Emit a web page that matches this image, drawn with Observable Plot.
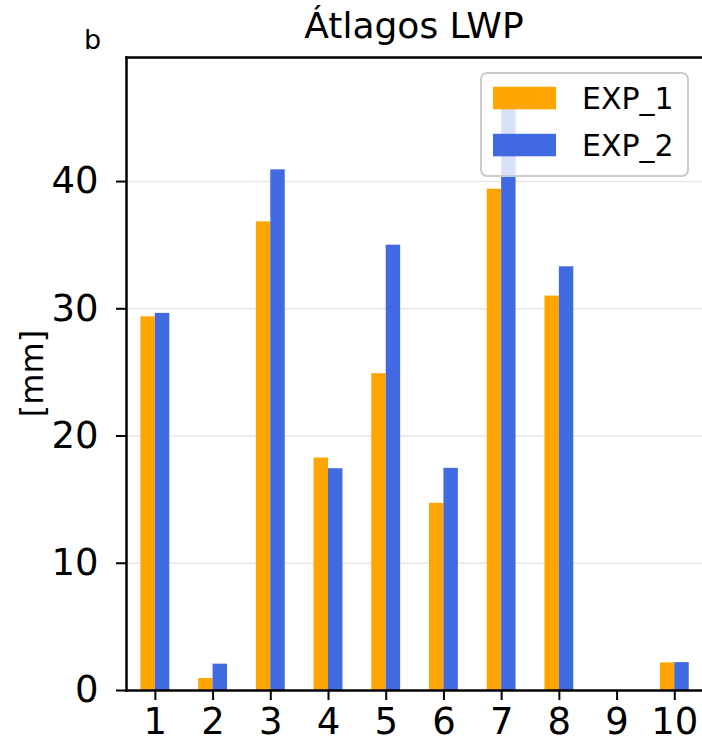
<!DOCTYPE html>
<html>
<head>
<meta charset="utf-8">
<script src="https://cdn.jsdelivr.net/npm/d3@7"></script>
<script src="https://cdn.jsdelivr.net/npm/@observablehq/plot@0.6"></script>
<style>
  html, body { margin: 0; padding: 0; background: #fff; }
  #chart svg { display: block; font-family: "DejaVu Sans", sans-serif; }
</style>
</head>
<body>
<div id="chart"></div>
<script>
// Mean liquid water path per case, two experiments
const cases = [1, 2, 3, 4, 5, 6, 7, 8, 9, 10];
const exp1 = [29.37, 0.94, 36.83, 18.27, 24.9, 14.71, 39.4, 31.0, 0, 2.17];
const exp2 = [29.64, 2.07, 40.92, 17.43, 35.0, 17.46, 47.38, 33.3, 0, 2.19];
const seriesNames = ["EXP_1", "EXP_2"];
const seriesColors = ["#FFA500", "#4169E1"];
const yTicks = [0, 10, 20, 30, 40];

const barWidth = 0.25;
const rows = [];
cases.forEach((c, i) => {
  rows.push({case: c, series: seriesNames[0], value: exp1[i], x1: c - barWidth, x2: c});
  rows.push({case: c, series: seriesNames[1], value: exp2[i], x1: c, x2: c + barWidth});
});

const W = 702, H = 746;
const mL = 126, mR = 0, mT = 57, mB = 56;
const font = "DejaVu Sans, sans-serif";
const tickFont = 37;

const chart = Plot.plot({
  width: W,
  height: H,
  marginLeft: mL,
  marginRight: mR,
  marginTop: mT,
  marginBottom: mB,
  style: {fontFamily: font, background: "#fff"},
  x: {domain: [0.5, 10.48]},
  y: {domain: [0, 1.05 * d3.max(exp2)]},
  color: {domain: seriesNames, range: seriesColors},
  marks: [
    Plot.ruleY(yTicks.filter(d => d > 0), {stroke: "#e6e6e6", strokeWidth: 1.5}),
    Plot.rectY(rows, {x1: "x1", x2: "x2", y1: 0, y2: "value", fill: "series", inset: 0}),
    Plot.axisX({
      ticks: cases, tickFormat: d => String(d), tickSize: 10, tickPadding: 7,
      fontSize: tickFont, strokeWidth: 2, stroke: "#000", fill: "#000", label: null
    }),
    Plot.axisY({
      ticks: yTicks, tickFormat: d => String(d), tickSize: 10, tickPadding: 18,
      fontSize: tickFont, strokeWidth: 2, stroke: "#000", fill: "#000", label: null
    }),
    Plot.frame({anchor: "left", stroke: "#000", strokeWidth: 2.5}),
    Plot.frame({anchor: "bottom", stroke: "#000", strokeWidth: 2.5}),
    Plot.frame({anchor: "top", stroke: "#000", strokeWidth: 2.5})
  ]
});

const svg = d3.select(chart);

// Title, panel letter and y label
svg.append("text")
  .attr("x", (mL + W) / 2).attr("y", 38)
  .attr("text-anchor", "middle")
  .attr("font-family", font).attr("font-size", 36)
  .attr("fill", "#000")
  .text("Átlagos LWP");

svg.append("text")
  .attr("x", 84).attr("y", 49)
  .attr("text-anchor", "start")
  .attr("font-family", font).attr("font-size", 27)
  .attr("fill", "#000")
  .text("b");

svg.append("text")
  .attr("transform", `translate(43, ${(mT + H - mB) / 2}) rotate(-90)`)
  .attr("text-anchor", "middle")
  .attr("font-family", font).attr("font-size", 32)
  .attr("fill", "#000")
  .text("[mm]");

// Legend box in the upper right of the axes
const lg = svg.append("g").attr("transform", "translate(481, 73)");
lg.append("rect")
  .attr("x", 0).attr("y", 0).attr("width", 207).attr("height", 103)
  .attr("rx", 6).attr("ry", 6)
  .attr("fill", "#fff").attr("fill-opacity", 0.8)
  .attr("stroke", "#cccccc").attr("stroke-width", 2);
seriesNames.forEach((name, i) => {
  const cy = 25.3 + i * 47;
  lg.append("rect")
    .attr("x", 12).attr("y", cy - 11.5).attr("width", 63).attr("height", 22.5)
    .attr("fill", seriesColors[i]);
  lg.append("text")
    .attr("x", 101).attr("y", cy).attr("dy", "0.36em")
    .attr("text-anchor", "start")
    .attr("font-family", font).attr("font-size", 30)
    .attr("fill", "#000")
    .text(name);
});

document.getElementById("chart").appendChild(chart);
</script>
</body>
</html>
